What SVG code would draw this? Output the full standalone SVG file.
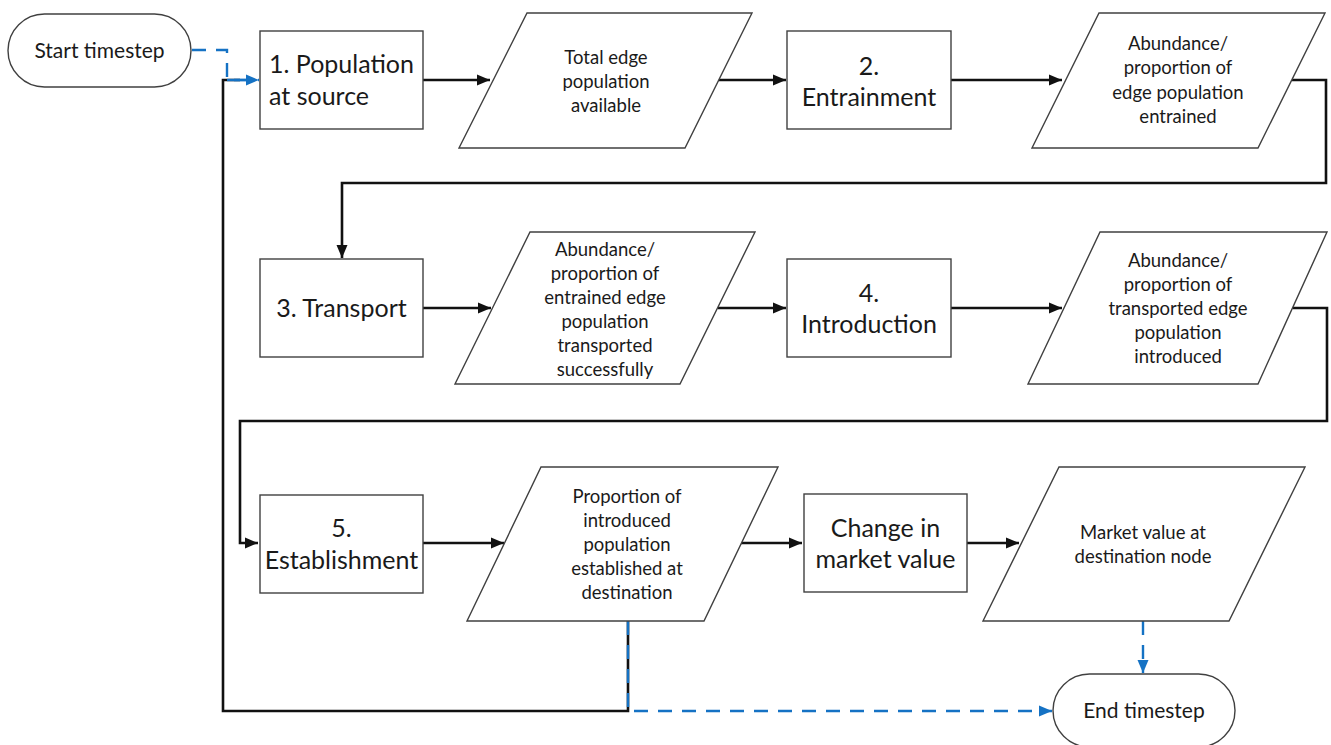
<svg xmlns="http://www.w3.org/2000/svg" width="1331" height="745" viewBox="0 0 1331 745">
<defs>
<style>
.node{fill:#fff;stroke:#404040;stroke-width:1.4}
.big{font-family:Lato,"Liberation Sans",sans-serif;font-size:25px;fill:#1a1a1a}
.sm{font-family:Lato,"Liberation Sans",sans-serif;font-size:18.5px;fill:#1a1a1a;text-anchor:middle}
.term{font-family:Lato,"Liberation Sans",sans-serif;font-size:21px;fill:#1a1a1a;text-anchor:middle}
.c{text-anchor:middle}
.flow{fill:none;stroke:#111;stroke-width:2.6}
.dash{fill:none;stroke:#1572C4;stroke-width:2.4;stroke-dasharray:14 10}
</style>
<marker id="ab" markerUnits="userSpaceOnUse" markerWidth="14" markerHeight="14" viewBox="0 0 14 14" refX="13" refY="7" orient="auto"><path d="M0,1.5 L13,7 L0,12.5 Z" fill="#111"/></marker>
<marker id="abl" markerUnits="userSpaceOnUse" markerWidth="14" markerHeight="14" viewBox="0 0 14 14" refX="13" refY="7" orient="auto"><path d="M0,1.5 L13,7 L0,12.5 Z" fill="#1572C4"/></marker>
</defs>
<rect width="1331" height="745" fill="#fff"/>

<g id="connectors">
<path class="flow" d="M423,80 H490" marker-end="url(#ab)"/>
<path class="flow" d="M718,80 H786" marker-end="url(#ab)"/>
<path class="flow" d="M951,80 H1062" marker-end="url(#ab)"/>
<path class="flow" d="M1292,80 H1326 V183 H342 V258" marker-end="url(#ab)"/>
<path class="flow" d="M423,308 H491" marker-end="url(#ab)"/>
<path class="flow" d="M718,308 H786" marker-end="url(#ab)"/>
<path class="flow" d="M951,308 H1062" marker-end="url(#ab)"/>
<path class="flow" d="M1293,308 H1327 V421 H240 V543 H258" marker-end="url(#ab)"/>
<path class="flow" d="M423,543 H504" marker-end="url(#ab)"/>
<path class="flow" d="M741,543 H802" marker-end="url(#ab)"/>
<path class="flow" d="M967,543 H1019" marker-end="url(#ab)"/>
<path class="flow" d="M628,621 V711 H223 V80 H240"/>
<path class="dash" d="M192,50 H227 V80 H259" marker-end="url(#abl)"/>
<path d="M227,80 H246" fill="none" stroke="#1572C4" stroke-width="2.4"/>
<path class="dash" d="M628,621 V711 H1052" marker-end="url(#abl)"/>
<path class="dash" d="M1143,621 V673" marker-end="url(#abl)"/>
</g>

<g id="start">
<rect class="node" x="8" y="14" width="183" height="73" rx="36.5"/>
<text class="term" x="99.5" y="58">Start timestep</text>
</g>

<g id="step1">
<rect class="node" x="260" y="31" width="163" height="98"/>
<text class="big" x="269" y="73">1. Population</text>
<text class="big" x="269" y="105">at source</text>
</g>

<g id="data1">
<polygon class="node" points="527,13 752,13 685,148 459,148"/>
<text class="sm" x="606" y="63.5">Total edge</text>
<text class="sm" x="606" y="87.5">population</text>
<text class="sm" x="606" y="111.5">available</text>
</g>

<g id="step2">
<rect class="node" x="787" y="31" width="164" height="98"/>
<text class="big c" x="869" y="75">2.</text>
<text class="big c" x="869" y="106">Entrainment</text>
</g>

<g id="data2">
<polygon class="node" points="1099,13 1325,13 1258,148 1032,148"/>
<text class="sm" x="1178" y="49.5">Abundance/</text>
<text class="sm" x="1178" y="74">proportion of</text>
<text class="sm" x="1178" y="98.5">edge population</text>
<text class="sm" x="1178" y="123">entrained</text>
</g>

<g id="step3">
<rect class="node" x="260" y="259" width="163" height="98"/>
<text class="big c" x="341.5" y="317">3. Transport</text>
</g>

<g id="data3">
<polygon class="node" points="530,232 755,232 680,384 455,384"/>
<text class="sm" x="605" y="255.5">Abundance/</text>
<text class="sm" x="605" y="279.5">proportion of</text>
<text class="sm" x="605" y="303.5">entrained edge</text>
<text class="sm" x="605" y="328">population</text>
<text class="sm" x="605" y="352">transported</text>
<text class="sm" x="605" y="376">successfully</text>
</g>

<g id="step4">
<rect class="node" x="787" y="259" width="164" height="98"/>
<text class="big c" x="869" y="302">4.</text>
<text class="big c" x="869" y="333">Introduction</text>
</g>

<g id="data4">
<polygon class="node" points="1100,232 1327,232 1258,384 1028,384"/>
<text class="sm" x="1178" y="266.5">Abundance/</text>
<text class="sm" x="1178" y="290.5">proportion of</text>
<text class="sm" x="1178" y="314.5">transported edge</text>
<text class="sm" x="1178" y="338.5">population</text>
<text class="sm" x="1178" y="362.5">introduced</text>
</g>

<g id="step5">
<rect class="node" x="260" y="495" width="163" height="98"/>
<text class="big c" x="341.5" y="537">5.</text>
<text class="big c" x="341.5" y="569">Establishment</text>
</g>

<g id="data5">
<polygon class="node" points="541,467 778,467 704,621 467,621"/>
<text class="sm" x="627" y="502.5">Proportion of</text>
<text class="sm" x="627" y="526.5">introduced</text>
<text class="sm" x="627" y="550.5">population</text>
<text class="sm" x="627" y="574.5">established at</text>
<text class="sm" x="627" y="598.5">destination</text>
</g>

<g id="step6">
<rect class="node" x="804" y="494" width="163" height="98"/>
<text class="big c" x="885.5" y="537">Change in</text>
<text class="big c" x="885.5" y="568">market value</text>
</g>

<g id="data6">
<polygon class="node" points="1059,467 1305,467 1229,621 983,621"/>
<text class="sm" x="1143" y="538.5">Market value at</text>
<text class="sm" x="1143" y="562.5">destination node</text>
</g>

<g id="end">
<rect class="node" x="1053" y="674" width="182" height="73" rx="36.5"/>
<text class="term" x="1144" y="718">End timestep</text>
</g>
</svg>
